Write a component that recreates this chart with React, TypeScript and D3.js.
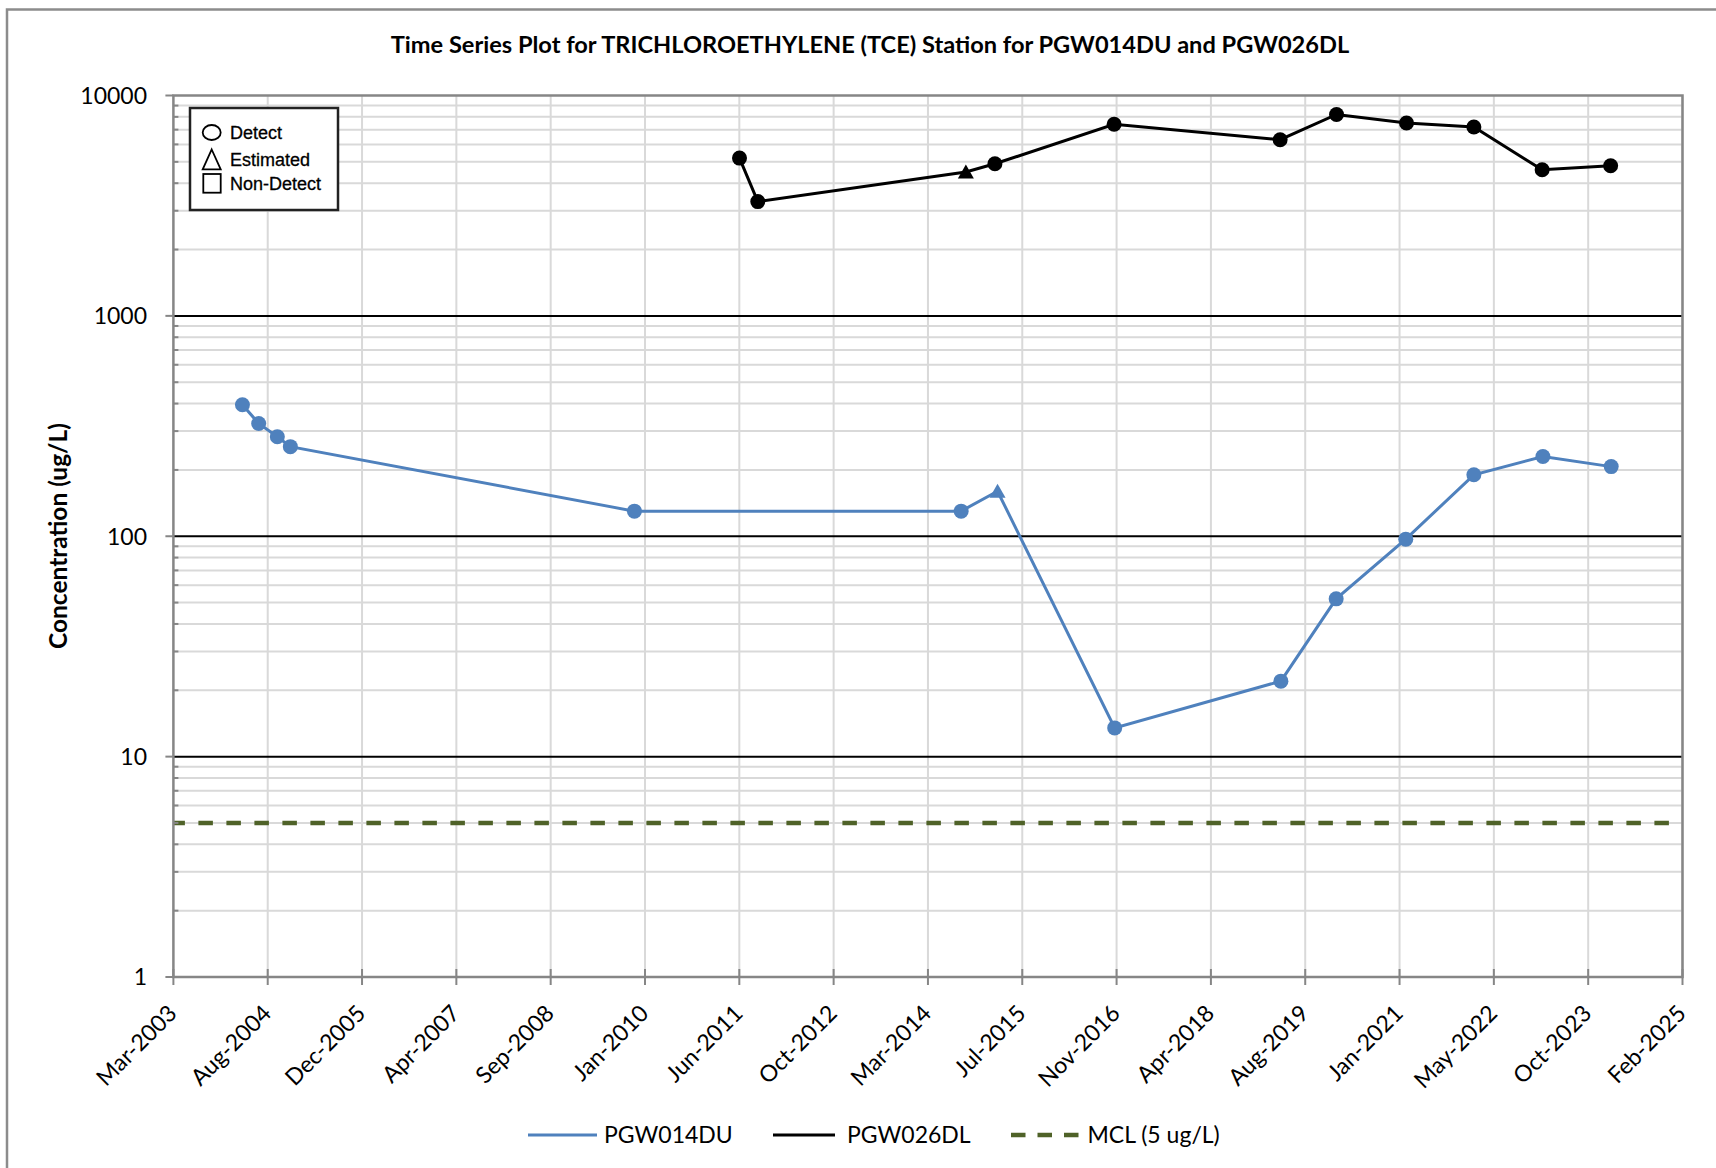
import React from "react";
import * as d3 from "d3";

const TITLE = "Time Series Plot for TRICHLOROETHYLENE (TCE) Station for PGW014DU and PGW026DL";
const Y_TITLE = "Concentration (ug/L)";

// PGW014DU
const s1Dates = ["2004-03-20", "2004-06-14", "2004-09-21", "2004-11-29", "2009-11-27", "2014-08-25", "2015-03-06", "2016-11-16", "2019-04-16", "2020-02-03", "2021-02-06", "2022-02-02", "2023-02-03", "2024-01-31"];
const s1Values = [395, 325, 283, 255, 130, 130, 160, 13.5, 22, 52, 97, 190, 230, 207];
const s1Flags = ["D", "D", "D", "D", "D", "D", "E", "D", "D", "D", "D", "D", "D", "D"];

// PGW026DL
const s2Dates = ["2011-06-07", "2011-09-12", "2014-09-19", "2015-02-20", "2016-11-13", "2019-04-12", "2020-02-05", "2021-02-10", "2022-02-02", "2023-01-30", "2024-01-28"];
const s2Values = [5200, 3300, 4500, 4900, 7400, 6300, 8200, 7500, 7200, 4600, 4800];
const s2Flags = ["D", "D", "E", "D", "D", "D", "D", "D", "D", "D", "D"];

const MCL = 5;
const X_START = "2003-03-20";
const X_END = "2025-02-12";
const X_TICK_DAYS = 500;
const Y_DECADES = [1, 10, 100, 1000, 10000];

const seriesNames = ["PGW014DU", "PGW026DL", "MCL (5 ug/L)"];
const markerLegend = ["Detect", "Estimated", "Non-Detect"];

const BLUE = "#4f81bd";
const BLACK = "#000000";
const OLIVE = "#4f6228";
const GRID = "#d9d9d9";
const AXIS = "#868686";
const FONT = "Lato, 'Open Sans', sans-serif";

const L = 173.4, R = 1682.5, T = 95.5, B = 977;

const parse = d3.utcParse("%Y-%m-%d");
const fmt = d3.utcFormat("%b-%Y");

function triPath(cx: number, cy: number) {
  return `M${cx},${cy - 7.5} L${cx + 8},${cy + 6.5} L${cx - 8},${cy + 6.5} Z`;
}

export default function App() {
  const start = parse(X_START)!;
  const end = parse(X_END)!;
  const x = d3.scaleUtc().domain([start, end]).range([L, R]);
  const y = d3.scaleLog().domain([1, 10000]).range([B, T]);

  const xTicks: Date[] = [];
  for (let d = start; d <= end; d = d3.utcDay.offset(d, X_TICK_DAYS)) xTicks.push(d);

  const minorVals: number[] = [];
  for (let i = 0; i < Y_DECADES.length - 1; i++) {
    for (let k = 2; k <= 9; k++) minorVals.push(Y_DECADES[i] * k);
  }

  const s1 = s1Dates.map((d, i) => ({ date: parse(d)!, v: s1Values[i], f: s1Flags[i] }));
  const s2 = s2Dates.map((d, i) => ({ date: parse(d)!, v: s2Values[i], f: s2Flags[i] }));
  const line = d3.line<{ date: Date; v: number }>().x((d) => x(d.date)).y((d) => y(d.v));

  const markers = (data: typeof s1, color: string) =>
    data.map((d, i) =>
      d.f === "E" ? (
        <path key={i} d={triPath(x(d.date), y(d.v))} fill={color} />
      ) : (
        <circle key={i} cx={x(d.date)} cy={y(d.v)} r={7.5} fill={color} />
      )
    );

  const legY = 1135;

  return (
    <svg width={1716} height={1168} style={{ position: "absolute", left: 0, top: 0, background: "#fff" }} fontFamily={FONT}>
      <rect x={0} y={0} width={1716} height={1168} fill="#fff" />
      <rect x={7} y={9.5} width={1760} height={1200} fill="none" stroke="#8c8c8c" strokeWidth={2.5} />

      <text x={870} y={53} textAnchor="middle" fontSize={23.6} fontWeight={700}>{TITLE}</text>

      {/* minor horizontal gridlines */}
      {minorVals.map((v) => (
        <line key={"m" + v} x1={L} x2={R} y1={y(v)} y2={y(v)} stroke={GRID} strokeWidth={2} />
      ))}
      {/* vertical gridlines */}
      {xTicks.slice(1).map((d, i) => (
        <line key={"v" + i} x1={x(d)} x2={x(d)} y1={T} y2={B} stroke={GRID} strokeWidth={2} />
      ))}
      {/* major horizontal gridlines */}
      {Y_DECADES.slice(1, -1).map((v) => (
        <line key={"M" + v} x1={L} x2={R} y1={y(v)} y2={y(v)} stroke="#000" strokeWidth={2} />
      ))}

      {/* MCL */}
      <line x1={L} x2={R} y1={y(MCL)} y2={y(MCL)} stroke={OLIVE} strokeWidth={4.5} strokeDasharray="14.5 13.5" strokeDashoffset={3} />

      {/* series */}
      <path d={line(s1)!} fill="none" stroke={BLUE} strokeWidth={3} />
      {markers(s1, BLUE)}
      <path d={line(s2)!} fill="none" stroke={BLACK} strokeWidth={3} />
      {markers(s2, BLACK)}

      {/* plot border */}
      <rect x={L} y={T} width={R - L} height={B - T} fill="none" stroke={AXIS} strokeWidth={2.5} />

      {/* y axis ticks */}
      {Y_DECADES.map((v) => (
        <g key={"yt" + v}>
          <line x1={L - 8} x2={L} y1={y(v)} y2={y(v)} stroke={AXIS} strokeWidth={2} />
          <text x={147} y={y(v)} dy="0.36em" textAnchor="end" fontSize={23}>{v}</text>
        </g>
      ))}
      {minorVals.map((v) => (
        <line key={"mt" + v} x1={L} x2={L + 5} y1={y(v)} y2={y(v)} stroke={AXIS} strokeWidth={2} />
      ))}

      {/* x axis ticks */}
      {xTicks.map((d, i) => (
        <g key={"xt" + i}>
          <line x1={x(d)} x2={x(d)} y1={B - 8} y2={B + 8} stroke={AXIS} strokeWidth={2} />
          <text transform={`translate(${x(d) - 1},${B + 32}) rotate(-45)`} dy="0.36em" textAnchor="end" fontSize={23}>{fmt(d)}</text>
        </g>
      ))}

      {/* y title */}
      <text transform={`translate(58,536) rotate(-90)`} dy="0.36em" textAnchor="middle" fontSize={24.5} fontWeight={700}>{Y_TITLE}</text>

      {/* marker legend box */}
      <rect x={190} y={108} width={148} height={102} fill="#fff" stroke="#222" strokeWidth={2.5} />
      <ellipse cx={211.7} cy={132.5} rx={9} ry={7.5} fill="none" stroke="#000" strokeWidth={1.8} />
      <path d="M211.7,149.5 L220.7,169.3 L202.7,169.3 Z" fill="none" stroke="#000" strokeWidth={1.8} />
      <rect x={203.3} y={174} width={17.4} height={18.7} fill="none" stroke="#000" strokeWidth={1.8} />
      {markerLegend.map((t, i) => (
        <text key={t} x={230} y={[132.5, 159.5, 184][i]} dy="0.36em" fontSize={18} fontFamily="'Liberation Sans', Arial, sans-serif" stroke="#000" strokeWidth={0.3}>{t}</text>
      ))}

      {/* bottom legend */}
      <line x1={528} x2={597} y1={legY} y2={legY} stroke={BLUE} strokeWidth={3} />
      <text x={604} y={legY} dy="0.36em" fontSize={23}>{seriesNames[0]}</text>
      <line x1={773} x2={835} y1={legY} y2={legY} stroke={BLACK} strokeWidth={3} />
      <text x={847} y={legY} dy="0.36em" fontSize={23}>{seriesNames[1]}</text>
      <line x1={1011} x2={1079} y1={legY} y2={legY} stroke={OLIVE} strokeWidth={4.5} strokeDasharray="14.5 12" />
      <text x={1087.5} y={legY} dy="0.36em" fontSize={23}>{seriesNames[2]}</text>
    </svg>
  );
}
